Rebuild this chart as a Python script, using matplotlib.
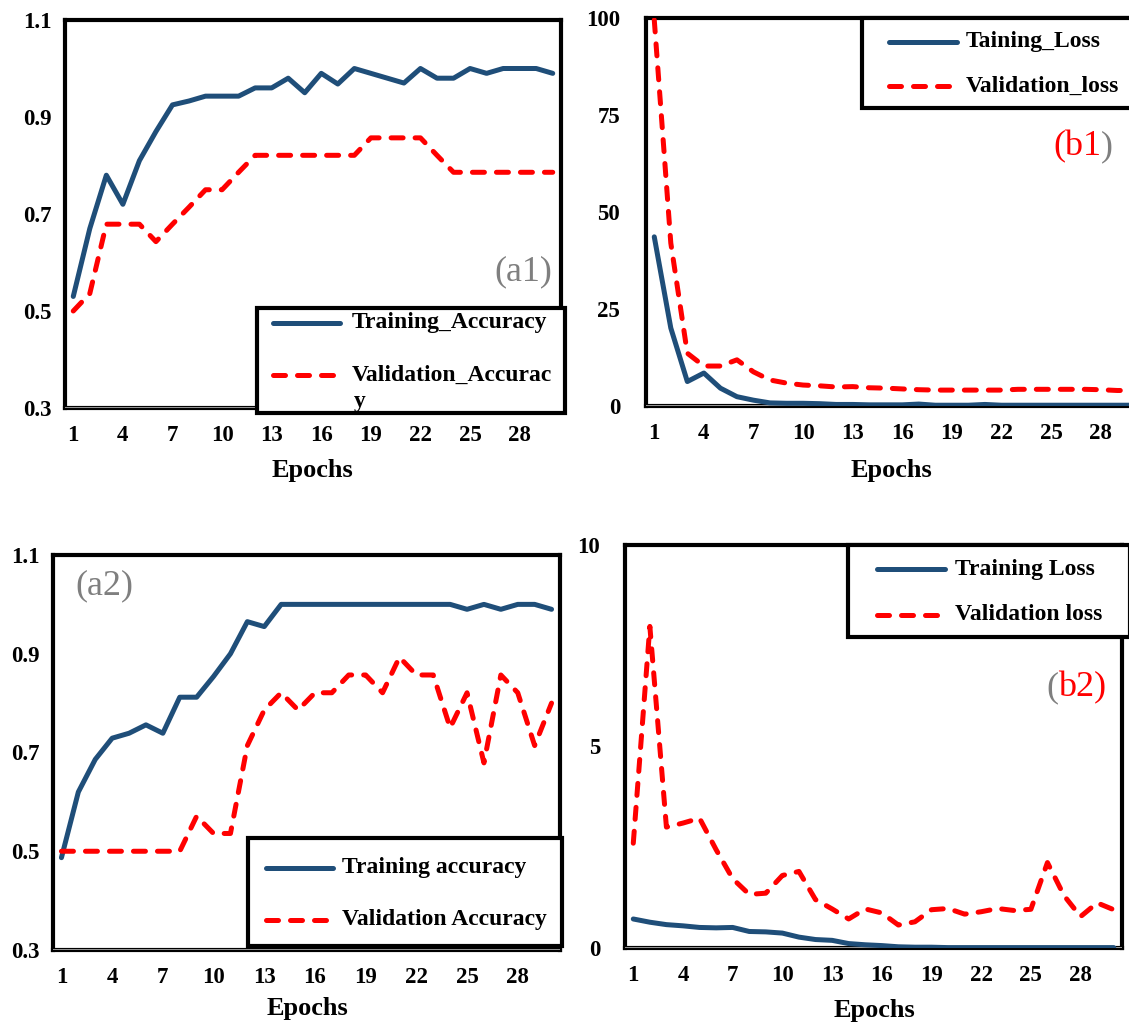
import matplotlib
matplotlib.use("Agg")
import matplotlib.pyplot as plt
from matplotlib.lines import Line2D
from matplotlib.patches import Rectangle

# data (epochs 1..30)
epochs = list(range(1, 31))

a1_train = [0.53, 0.67, 0.78, 0.72, 0.81, 0.87, 0.925, 0.933, 0.943, 0.943,
            0.943, 0.96, 0.96, 0.98, 0.95, 0.99, 0.968, 1.0, 0.99, 0.98,
            0.97, 1.0, 0.98, 0.98, 1.0, 0.99, 1.0, 1.0, 1.0, 0.99]
a1_val = [0.5, 0.536, 0.679, 0.679, 0.679, 0.643, 0.679, 0.714, 0.75, 0.75,
          0.786, 0.821, 0.821, 0.821, 0.821, 0.821, 0.821, 0.821, 0.857, 0.857,
          0.857, 0.857, 0.821, 0.786, 0.786, 0.786, 0.786, 0.786, 0.786, 0.786]

b1_train = [43.6, 20.1, 6.3, 8.5, 4.6, 2.4, 1.5, 0.8, 0.7, 0.7,
            0.6, 0.4, 0.4, 0.3, 0.3, 0.3, 0.5, 0.2, 0.2, 0.2,
            0.4, 0.2, 0.2, 0.2, 0.2, 0.2, 0.2, 0.2, 0.2, 0.2]
b1_val = [99.5, 42.0, 13.6, 10.3, 10.3, 11.9, 8.8, 6.7, 5.9, 5.4,
          5.2, 4.9, 5.0, 4.7, 4.6, 4.4, 4.2, 4.1, 4.1, 4.1,
          4.1, 4.1, 4.3, 4.3, 4.3, 4.3, 4.3, 4.2, 4.0, 4.0]

a2_train = [0.487, 0.62, 0.686, 0.729, 0.739, 0.756, 0.739, 0.812, 0.812, 0.854,
            0.9, 0.965, 0.955, 1.0, 1.0, 1.0, 1.0, 1.0, 1.0, 1.0,
            1.0, 1.0, 1.0, 1.0, 0.99, 1.0, 0.99, 1.0, 1.0, 0.99]
a2_val = [0.5, 0.5, 0.5, 0.5, 0.5, 0.5, 0.5, 0.5, 0.571, 0.536,
          0.536, 0.714, 0.786, 0.821, 0.786, 0.821, 0.821, 0.857, 0.857, 0.821,
          0.893, 0.857, 0.857, 0.75, 0.821, 0.679, 0.857, 0.821, 0.714, 0.8]

b2_train = [0.72, 0.64, 0.58, 0.55, 0.51, 0.5, 0.51, 0.41, 0.4, 0.37,
            0.27, 0.21, 0.19, 0.11, 0.08, 0.06, 0.03, 0.02, 0.02, 0.01,
            0.01, 0.01, 0.01, 0.01, 0.01, 0.01, 0.01, 0.01, 0.01, 0.01]
b2_val = [2.6, 7.98, 3.0, 3.1, 3.22, 2.44, 1.72, 1.33, 1.36, 1.8,
          1.9, 1.2, 0.97, 0.72, 0.97, 0.87, 0.57, 0.65, 0.95, 0.98,
          0.84, 0.9, 0.98, 0.93, 0.96, 2.12, 1.3, 0.78, 1.12, 0.95]

xtick_vals = list(range(1, 29, 3))

W, H = 1129, 1023
BLUE = "#1F4E79"
RED = "#FF0000"
GRAY = "#7F7F7F"

plt.rcParams["font.family"] = ["Liberation Serif", "DejaVu Serif"]
plt.rcParams["font.weight"] = "bold"

train_kw = dict(color=BLUE, lw=3.6, solid_capstyle="round", solid_joinstyle="round")
val_kw = dict(color=RED, lw=3.6, dashes=(2.4, 2.4), dash_capstyle="round",
              dash_joinstyle="round")

fig = plt.figure(figsize=(W / 100, H / 100), dpi=100)
renderer = fig.canvas.get_renderer()


def px(x, y):
    # pixel position (from top left) -> figure fraction
    return x / W, 1 - y / H


def panel(l, t, r, b, train, val, ylim, yticks, ylabels, ypad, label_xy):
    ax = fig.add_axes([l / W, 1 - b / H, (r - l) / W, (b - t) / H])
    ax.plot(epochs, train, zorder=4, **train_kw)
    ax.plot(epochs, val, zorder=4, **val_kw)
    ax.set_xlim(0.5, 30.5)
    ax.set_ylim(*ylim)
    ax.set_xticks(xtick_vals)
    ax.set_yticks(yticks)
    ax.set_yticklabels(ylabels)
    ax.tick_params(axis="both", length=0, labelsize=16.5)
    ax.tick_params(axis="x", pad=12)
    ax.tick_params(axis="y", pad=ypad)
    for s in ax.spines.values():
        s.set_linewidth(3)
        s.set_color("black")
    ax.axhline(ylim[0], color="#B0B0B0", lw=1.2, zorder=3)
    ax.set_xlabel("Epochs", fontsize=19, fontweight="bold")
    ax.xaxis.set_label_coords(*label_xy)
    ax.xaxis.label.set_va("center")
    return ax


def legend(box, rows, hx, tx, names):
    l, t, r, b = box
    x0, y0 = px(l, b)
    fig.add_artist(Rectangle((x0, y0), (r - l) / W, (b - t) / H,
                             transform=fig.transFigure, facecolor="white",
                             edgecolor="black", lw=3, zorder=5))
    for y, name, kw in zip(rows, names, [train_kw, val_kw]):
        fig.add_artist(Line2D([hx[0] / W, hx[1] / W], [1 - y / H] * 2,
                              transform=fig.transFigure, zorder=6, **kw))
        fig.text(*px(tx, y), name, fontsize=17, va="center", ha="left", zorder=6)


def tag(x, y, parts):
    # panel tag written piece by piece, each piece with its own colour
    for s, c in parts:
        t = fig.text(*px(x, y), s, fontsize=26, color=c, weight="normal",
                     ha="left", va="center")
        x += t.get_window_extent(renderer).width


acc_ticks = [0.3, 0.5, 0.7, 0.9, 1.1]
acc_labels = ["0.3", "0.5", "0.7", "0.9", "1.1"]

# (a1)
panel(65, 20, 561, 408, a1_train, a1_val, (0.3, 1.1), acc_ticks, acc_labels,
      9.4, (0.498, -0.160))
legend((257, 308, 565, 413), (323, 375), (273, 340), 352,
       ["Training_Accuracy", "Validation_Accurac"])
fig.text(*px(354, 401), "y", fontsize=17, va="center", ha="left", zorder=6)
tag(494, 272, [("(a1)", GRAY)])

# (b1)
panel(646, 18, 1142, 406, b1_train, b1_val, (0, 100), [0, 25, 50, 75, 100],
      ["0", "25", "50", "75", "100"], 18.5, (0.494, -0.165))
legend((862, 18, 1140, 108), (42, 86), (889, 957), 966,
       ["Taining_Loss", "Validation_loss"])
tag(1053, 147, [("(b1", RED), (")", GRAY)])

# (a2)
panel(53, 555, 560, 950, a2_train, a2_val, (0.3, 1.1), acc_ticks, acc_labels,
      9.4, (0.501, -0.147))
legend((248, 838, 562, 946), (868, 920), (266, 333), 342,
       ["Training accuracy", "Validation Accuracy"])
tag(75, 586, [("(a2)", GRAY)])

# (b2)
panel(625, 545, 1122, 948, b2_train, b2_val, (0, 10), [0, 5, 10],
      ["0", "5", "10"], 18, (0.501, -0.154))
legend((848, 545, 1130, 637), (569, 615), (877, 945), 955,
       ["Training Loss", "Validation loss"])
tag(1046, 688, [("(", GRAY), ("b2)", RED)])

fig.savefig("out.png", dpi=100)
